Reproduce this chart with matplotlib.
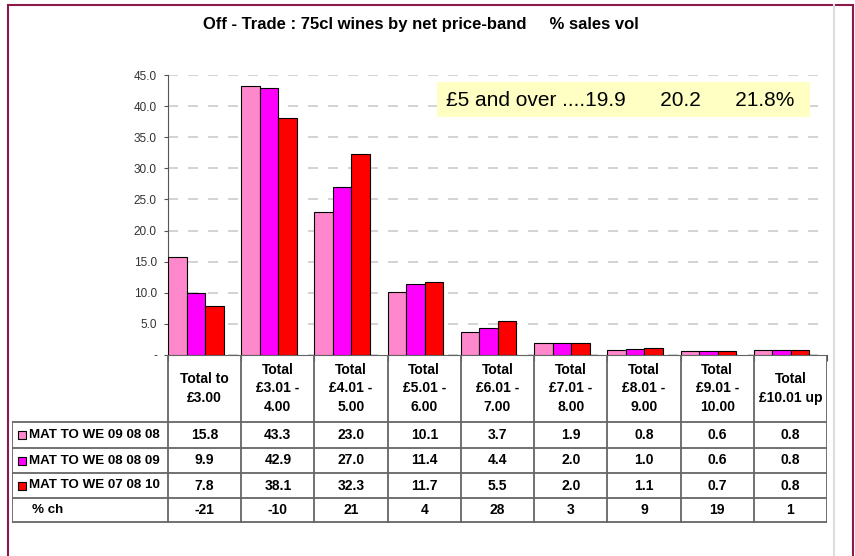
import numpy as np
from matplotlib import pyplot as plt
from matplotlib.patches import Rectangle

# Price bands (table header) and series
bands = ["Total to\n£3.00", "Total\n£3.01 -\n4.00", "Total\n£4.01 -\n5.00",
         "Total\n£5.01 -\n6.00", "Total\n£6.01 -\n7.00", "Total\n£7.01 -\n8.00",
         "Total\n£8.01 -\n9.00", "Total\n£9.01 -\n10.00", "Total\n£10.01 up"]
series_names = ["MAT TO WE 09 08 08", "MAT TO WE 08 08 09", "MAT TO WE 07 08 10"]
mat_2008 = [15.8, 43.3, 23.0, 10.1, 3.7, 1.9, 0.8, 0.6, 0.8]
mat_2009 = [9.9, 42.9, 27.0, 11.4, 4.4, 2.0, 1.0, 0.6, 0.8]
mat_2010 = [7.8, 38.1, 32.3, 11.7, 5.5, 2.0, 1.1, 0.7, 0.8]
pct_change = [-21, -10, 21, 4, 28, 3, 9, 19, 1]
yticks = [0, 5, 10, 15, 20, 25, 30, 35, 40, 45]
note = "£5 and over ....19.9      20.2      21.8%"

colors = ["#FF88CC", "#FF00FF", "#FF0000"]
series = [mat_2008, mat_2009, mat_2010]

W, H = 855, 556
fig = plt.figure(figsize=(W / 100, H / 100), dpi=100)
plt.rcParams['font.family'] = ['Liberation Sans', 'DejaVu Sans']


def px(x0, y0, x1, y1):
    """pixel box (top-left origin) -> figure fraction rect"""
    return [x0 / W, 1 - y1 / H, (x1 - x0) / W, (y1 - y0) / H]


# outer frame
fig.add_artist(Rectangle((8 / W, -0.1), (853 - 8) / W, 1.1 - 5 / H,
                         transform=fig.transFigure, fill=False,
                         edgecolor="#8B1A4A", lw=1.5))
fig.add_artist(plt.Line2D([834 / W, 834 / W], [0, 1 - 5 / H],
                          transform=fig.transFigure, color="#DDDDDD", lw=1.5))

fig.text(421 / W, 1 - 25 / H,
         "Off - Trade : 75cl wines by net price-band     % sales vol",
         ha="center", va="center", fontsize=12, fontweight="bold")

# yellow note box
fig.add_artist(Rectangle(((437) / W, 1 - 117 / H), (810 - 437) / W, 35 / H,
                         transform=fig.transFigure, fc="#FFFFC4", ec="none",
                         zorder=4))
fig.text(446 / W, 1 - 100 / H, note, ha="left", va="center", fontsize=15,
         zorder=5)

# Bar chart
ax = fig.add_axes(px(168, 75, 827, 355))
n = len(bands)
bw = 0.253
x = np.arange(n)
for i, (vals, c) in enumerate(zip(series, colors)):
    ax.bar(x + i * bw, vals, width=bw, align="edge", color=c,
           edgecolor="black", linewidth=0.8, zorder=3)

ax.set_xlim(0, n)
ax.set_ylim(0, 45)
ax.set_yticks(yticks)
ax.set_yticklabels(["-"] + [f"{t:.1f}" for t in yticks[1:]],
                   fontsize=8.5, color="#333333")
ax.set_xticks(np.arange(n + 1))
ax.set_xticklabels([])
ax.tick_params(axis="x", length=4, direction="out", color="#555555")
ax.tick_params(axis="y", length=3, direction="out", color="#555555", pad=5)
ax.yaxis.grid(True, color="#CCCCCC", linestyle=(0, (6, 6)), lw=1.2, zorder=0)
for s in ["top", "right"]:
    ax.spines[s].set_visible(False)
ax.spines["left"].set_color("#555555")
ax.spines["bottom"].set_color("#555555")

# Table
tab = fig.add_axes(px(12, 355, 827, 523))
col_w = (827 - 168) / n
x_left = (12 - 168) / col_w
tab.set_xlim(x_left, n)
tab.set_ylim(523, 355)
tab.axis("off")

row_edges = [355, 422, 448, 473, 498, 522]
lc = "#666666"
lw = 1.3
# vertical lines
for k in range(n + 1):
    tab.plot([k, k], [row_edges[0], row_edges[-1]], color=lc, lw=lw)
tab.plot([x_left, x_left], [row_edges[1], row_edges[-1]], color=lc, lw=lw)
# horizontal lines
tab.plot([0, n], [row_edges[0], row_edges[0]], color=lc, lw=lw)
for yv in row_edges[1:]:
    tab.plot([x_left, n], [yv, yv], color=lc, lw=lw)

for k, b in enumerate(bands):
    tab.text(k + 0.5, (row_edges[0] + row_edges[1]) / 2, b, ha="center",
             va="center", fontsize=10, fontweight="bold", linespacing=1.4)

rows = [[f"{v:.1f}" for v in s] for s in series] + [[str(v) for v in pct_change]]
labels = series_names + ["% ch"]
for r, (lab, vals) in enumerate(zip(labels, rows)):
    yc = (row_edges[r + 1] + row_edges[r + 2]) / 2
    if r < 3:
        sq = 8 / col_w
        tab.add_patch(Rectangle((x_left + 6 / col_w, yc - 4), sq, 8,
                                fc=colors[r], ec="black", lw=0.8))
        tab.text(x_left + 17 / col_w, yc, lab, ha="left", va="center",
                 fontsize=9.6, fontweight="bold")
    else:
        tab.text(x_left + 20 / col_w, yc, lab, ha="left", va="center",
                 fontsize=9.6, fontweight="bold")
    for k, v in enumerate(vals):
        tab.text(k + 0.5, yc, v, ha="center", va="center",
                 fontsize=10, fontweight="bold")

fig.savefig("out.png", dpi=100)
